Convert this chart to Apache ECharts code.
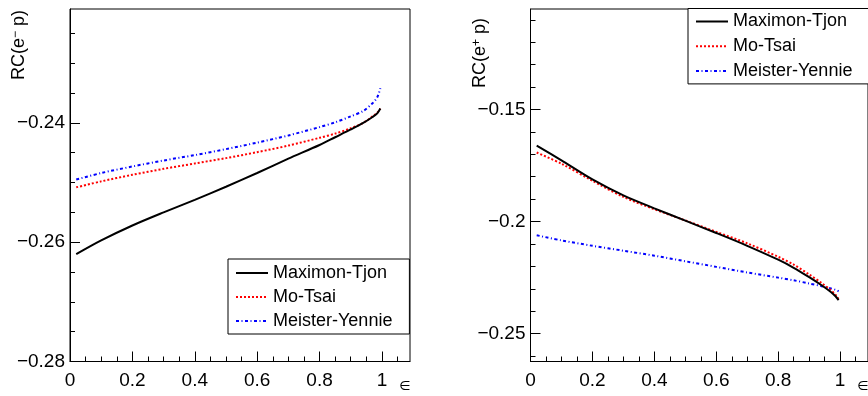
<!DOCTYPE html>
<html><head><meta charset="utf-8">
<script src="https://cdn.jsdelivr.net/npm/echarts@6/dist/echarts.min.js"></script>
<style>html,body{margin:0;padding:0;background:#fff}#c{width:868px;height:396px}</style>
</head><body><div id="c"></div>
<script>
// ---- data ----
const epsilon = [0.02, 0.1, 0.2, 0.3, 0.4, 0.5, 0.6, 0.7, 0.8, 0.85, 0.9, 0.94, 0.97, 0.985, 0.995];
// left panel: RC(e- p)
const leftMaximonTjon   = [-0.2620, -0.2597, -0.2572, -0.2550, -0.2529, -0.2507, -0.2484, -0.2460, -0.2437, -0.2424, -0.2411, -0.2400, -0.2390, -0.2384, -0.2376];
const leftMoTsai        = [-0.2508, -0.2498, -0.2487, -0.2477, -0.2468, -0.2459, -0.2449, -0.2438, -0.2425, -0.2418, -0.2409, -0.2400, -0.2389, -0.2383, -0.2376];
const leftMeisterYennie = [-0.2495, -0.2484, -0.2473, -0.2463, -0.2454, -0.2444, -0.2433, -0.2421, -0.2407, -0.2399, -0.2389, -0.2380, -0.2367, -0.2357, -0.2342];
// right panel: RC(e+ p)
const rightMaximonTjon   = [-0.1661, -0.1727, -0.1812, -0.1883, -0.1941, -0.1996, -0.2051, -0.2108, -0.2170, -0.2206, -0.2248, -0.2284, -0.2314, -0.2333, -0.2350];
const rightMoTsai        = [-0.1692, -0.1742, -0.1818, -0.1890, -0.1945, -0.1995, -0.2046, -0.2097, -0.2157, -0.2192, -0.2236, -0.2274, -0.2306, -0.2326, -0.2344];
const rightMeisterYennie = [-0.2061, -0.2084, -0.2108, -0.2130, -0.2152, -0.2177, -0.2202, -0.2227, -0.2250, -0.2262, -0.2276, -0.2288, -0.2298, -0.2304, -0.2311];

const seriesNames = ['Maximon-Tjon', 'Mo-Tsai', 'Meister-Yennie'];
const xTickLabels = [0, 0.2, 0.4, 0.6, 0.8, 1];
const leftYTickLabels = [-0.28, -0.26, -0.24];
const rightYTickLabels = [-0.25, -0.2, -0.15];

// ---- ranges / minor ticks ----
const X_MAX = 1.09;
const L_MIN = -0.28, L_MAX = -0.2209;
const R_MIN = -0.2624, R_MAX = -0.1052;
function steps(lo, hi, st) { const out = []; for (let k = Math.ceil(lo / st - 1e-9); k * st <= hi + 1e-9; k++) out.push(+(k * st).toFixed(4)); return out; }
const xMinor = steps(0, X_MAX, 0.05);
const lMinor = steps(L_MIN, L_MAX, 0.005);
const rMinor = steps(R_MIN, R_MAX, 0.01);

const FONT = 'Liberation Sans';
const fmt = v => String(+v.toFixed(4)).replace('-', '\u2212');
const styles = [
  { color: '#000000', width: 2, type: 'solid' },
  { color: '#ff0000', width: 2, type: [2, 2] },
  { color: '#0000ff', width: 2, type: [3, 2.5, 1, 2.5] }
];

function majorX(g) {
  return { type: 'value', gridIndex: g, min: 0, max: X_MAX, position: 'bottom',
    axisLine: { onZero: false, lineStyle: { color: '#000', width: 1 } },
    axisTick: { inside: true, length: 10, customValues: xTickLabels, lineStyle: { color: '#000' } },
    axisLabel: { customValues: xTickLabels, formatter: fmt, fontSize: 19, fontFamily: FONT, color: '#000', margin: 10 },
    splitLine: { show: false } };
}
function minorX(g) {
  return { type: 'value', gridIndex: g, min: 0, max: X_MAX, position: 'bottom',
    axisLine: { show: false }, axisLabel: { show: false }, splitLine: { show: false },
    axisTick: { inside: true, length: 5, customValues: xMinor, lineStyle: { color: '#000' } } };
}
function majorY(g, mn, mx, ticks) {
  return { type: 'value', gridIndex: g, min: mn, max: mx, position: 'left',
    axisLine: { onZero: false, lineStyle: { color: '#000', width: 1 } },
    axisTick: { inside: true, length: 10, customValues: ticks, lineStyle: { color: '#000' } },
    axisLabel: { customValues: ticks, formatter: fmt, fontSize: 19, fontFamily: FONT, color: '#000', margin: 5 },
    splitLine: { show: false } };
}
function minorY(g, mn, mx, ticks) {
  return { type: 'value', gridIndex: g, min: mn, max: mx, position: 'left',
    axisLine: { show: false }, axisLabel: { show: false }, splitLine: { show: false },
    axisTick: { inside: true, length: 5, customValues: ticks, lineStyle: { color: '#000' } } };
}

function mk(name, idx, vals, axisIdx) {
  return { name, type: 'line', xAxisIndex: axisIdx, yAxisIndex: axisIdx, symbol: 'none', showSymbol: false,
    smooth: 0.3, data: epsilon.map((e, i) => [e, vals[i]]),
    lineStyle: styles[idx], itemStyle: { color: styles[idx].color }, z: 3 - idx };
}

const legendBase = { orient: 'vertical', data: seriesNames, itemWidth: 32, itemHeight: 14, selectedMode: false,
  borderColor: '#000', borderWidth: 1, backgroundColor: '#fff', borderRadius: 0,
  itemStyle: { opacity: 0, color: 'rgba(0,0,0,0)', borderWidth: 0 },
  textStyle: { fontSize: 18, fontFamily: FONT, color: '#000', lineHeight: 18 } };

const option = {
  animation: false,
  backgroundColor: '#fff',
  grid: [
    { left: 70, top: 9, width: 340, height: 352.5, show: true, borderColor: '#000', borderWidth: 1, containLabel: false },
    { left: 530.5, top: 9, width: 339.8, height: 352.5, show: true, borderColor: '#000', borderWidth: 1, containLabel: false }
  ],
  xAxis: [majorX(0), majorX(1), minorX(0), minorX(1)],
  yAxis: [majorY(0, L_MIN, L_MAX, leftYTickLabels), majorY(1, R_MIN, R_MAX, rightYTickLabels),
          minorY(0, L_MIN, L_MAX, lMinor), minorY(1, R_MIN, R_MAX, rMinor)],
  legend: [
    Object.assign({}, legendBase, { left: 228, top: 259, itemGap: 6, padding: [5, 17, 4, 7] }),
    Object.assign({}, legendBase, { left: 688, top: 8.5, itemGap: 6.7, padding: [4, 150, 4, 7] })
  ],
  series: [
    mk(seriesNames[0], 0, leftMaximonTjon, 0),
    mk(seriesNames[1], 1, leftMoTsai, 0),
    mk(seriesNames[2], 2, leftMeisterYennie, 0),
    mk(seriesNames[0], 0, rightMaximonTjon, 1),
    mk(seriesNames[1], 1, rightMoTsai, 1),
    mk(seriesNames[2], 2, rightMeisterYennie, 1)
  ],
  graphic: [
    { type: 'text', x: 19, y: 10, rotation: Math.PI / 2, z: 10,
      style: { text: 'RC(e{sup|\u2212} p)', font: '18px "Liberation Sans"', fill: '#000', align: 'right', verticalAlign: 'middle',
        rich: { sup: { fontSize: 12, fontFamily: FONT, fill: '#000', verticalAlign: 'top', padding: [0, 0, 6, 0] } } } },
    { type: 'text', x: 480, y: 18, rotation: Math.PI / 2, z: 10,
      style: { text: 'RC(e{sup|+} p)', font: '18px "Liberation Sans"', fill: '#000', align: 'right', verticalAlign: 'middle',
        rich: { sup: { fontSize: 12, fontFamily: FONT, fill: '#000', verticalAlign: 'top', padding: [0, 0, 6, 0] } } } },
    { type: 'text', x: 405, y: 387, z: 10, style: { text: '\u2208', font: '13px "DejaVu Sans"', fill: '#000', align: 'center', verticalAlign: 'middle' } },
    { type: 'text', x: 863, y: 387, z: 10, style: { text: '\u2208', font: '13px "DejaVu Sans"', fill: '#000', align: 'center', verticalAlign: 'middle' } }
  ]
};
const chart = echarts.init(document.getElementById('c'), null, { renderer: 'canvas' });
chart.setOption(option);
</script>
</body></html>
